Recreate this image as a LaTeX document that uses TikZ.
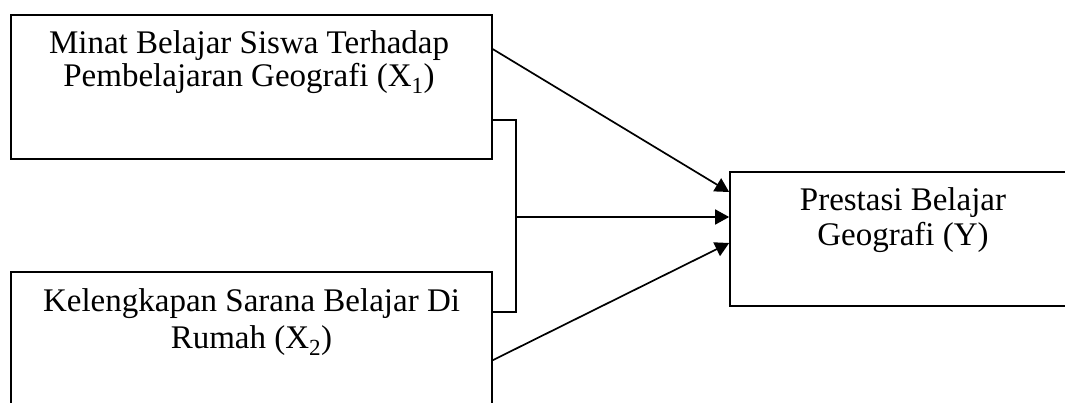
\documentclass[tikz,border=0pt]{standalone}
\usepackage{fontspec}
\setmainfont{Liberation Serif}
\usetikzlibrary{arrows.meta}
\tikzset{
  boxnode/.style={draw=black, line width=1.7pt, rectangle, inner sep=0pt},
  label/.style={anchor=base, inner sep=0pt, font=\fontsize{33}{32}\selectfont},
  conn/.style={draw=black, line width=1.7pt},
  arr/.style={conn, -{Triangle[length=14pt, width=15pt]}}
}
\begin{document}
\begin{tikzpicture}[x=1pt, y=-1pt]
\useasboundingbox (0,0) rectangle (1065,403);
\clip (0,0) rectangle (1065,403);
\fill[white] (0,0) rectangle (1065,403);
% boxes
\node[boxnode, minimum width=481pt, minimum height=144pt] (x1) at (251.5,87) {};
\node[boxnode, minimum width=481pt, minimum height=144pt] (x2) at (251.5,344) {};
\node[boxnode, minimum width=346pt, minimum height=134pt] (yb) at (903,239) {};
% texts
\node[label] (t1) at (249,54) {\begin{tabular}[t]{@{}c@{}}Minat Belajar Siswa Terhadap\\[0pt] Pembelajaran Geografi (X\textsubscript{1})\end{tabular}};
\node[label] (t2) at (251.5,312) {\begin{tabular}[t]{@{}c@{}}Kelengkapan Sarana Belajar Di\\[4pt] Rumah (X\textsubscript{2})\end{tabular}};
\node[label] (t3) at (903,211) {\begin{tabular}[t]{@{}c@{}}Prestasi Belajar\\[2pt] Geografi (Y)\end{tabular}};
% junction
\coordinate (j) at (516,217);
% connectors
\draw[arr] ([yshift=-35pt]x1.north east) -- ([yshift=47pt]yb.west);
\draw[arr] ([yshift=-89pt]x2.north east) -- ([yshift=-4pt]yb.west);
\draw[conn] ([yshift=-106pt]x1.north east) -| (j) |- ([yshift=-41pt]x2.north east);
\draw[arr] (j) -- ([yshift=22pt]yb.west);
\end{tikzpicture}
\end{document}
